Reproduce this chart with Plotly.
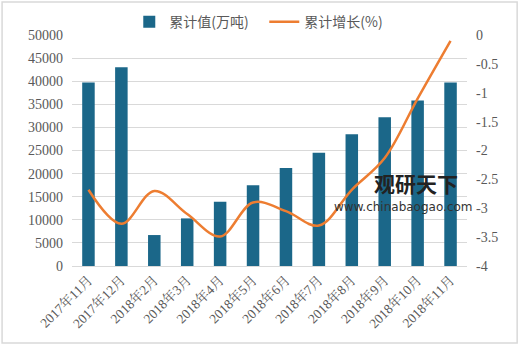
import plotly.graph_objects as go

# Monthly cumulative output and cumulative growth
months = ["2017年11月", "2017年12月", "2018年2月", "2018年3月", "2018年4月", "2018年5月",
          "2018年6月", "2018年7月", "2018年8月", "2018年9月", "2018年10月", "2018年11月"]
cum_value = [39700, 43000, 6700, 10300, 13900, 17500, 21200, 24500, 28500, 32200, 35800, 39700]
cum_growth = [-2.68, -3.27, -2.70, -3.10, -3.49, -2.90, -3.05, -3.30, -2.68, -2.13, -1.10, -0.10]

left_ticks = list(range(0, 50001, 5000))
left_labels = [str(v) for v in left_ticks]
right_ticks = [0, -0.5, -1, -1.5, -2, -2.5, -3, -3.5, -4]
right_labels = ["0", "-0.5", "-1", "-1.5", "-2", "-2.5", "-3", "-3.5", "-4"]

BAR_COLOR = "#1B6789"
LINE_COLOR = "#ED7D31"
TEXT_COLOR = "#595959"
FONT = "'Liberation Serif', 'Noto Serif CJK SC', 'Noto Sans CJK SC', serif"

fig = go.Figure()
fig.add_trace(go.Bar(
    x=months, y=cum_value, name="累计值(万吨)",
    marker=dict(color=BAR_COLOR, line=dict(width=0)),
    width=0.38, yaxis="y",
))
fig.add_trace(go.Scatter(
    x=months, y=cum_growth, name="累计增长(%)", mode="lines",
    line=dict(color=LINE_COLOR, width=2.5, shape="spline", smoothing=1.0),
    yaxis="y2",
))

fig.update_layout(
    width=520, height=346,
    margin=dict(l=72, r=53, t=35, b=80, autoexpand=False),
    paper_bgcolor="white", plot_bgcolor="white",
    font=dict(family=FONT, size=13, color=TEXT_COLOR),
    showlegend=True,
    legend=dict(
        orientation="h", x=0.145, xanchor="left", y=1.056, yanchor="middle",
        bgcolor="rgba(0,0,0,0)",
        font=dict(family="'Noto Sans CJK SC', sans-serif", size=14, color=TEXT_COLOR),
        itemwidth=30, entrywidth=90, entrywidthmode="pixels", traceorder="normal",
    ),
    xaxis=dict(
        type="category", tickangle=-45, showgrid=False, showline=True,
        linecolor="#D9D9D9", linewidth=1, ticks="",
        tickfont=dict(family=FONT, size=13.5, color=TEXT_COLOR),
    ),
    yaxis=dict(
        range=[0, 50000], tickvals=left_ticks, ticktext=left_labels,
        showgrid=True, gridcolor="#D9D9D9",
        gridwidth=1, zeroline=False, showline=False, ticks="",
        ticklabelstandoff=8,
        tickfont=dict(family=FONT, size=14, color=TEXT_COLOR),
    ),
    yaxis2=dict(
        range=[-4, 0], overlaying="y", side="right", tickvals=right_ticks,
        ticktext=right_labels, showgrid=False, zeroline=False, showline=False,
        ticks="", ticklabelstandoff=8,
        tickfont=dict(family=FONT, size=14, color=TEXT_COLOR),
    ),
    shapes=[dict(
        type="rect", xref="paper", yref="paper",
        x0=-0.177, x1=1.127, y0=-0.333, y1=1.143,
        line=dict(color="#D9D9D9", width=1.5), fillcolor="rgba(0,0,0,0)",
        layer="below",
    )],
    annotations=[
        dict(text="<b>观研天下</b>", xref="paper", yref="paper", x=0.87, y=0.36,
             xanchor="center", yanchor="middle",
             showarrow=False, font=dict(family="'Noto Sans CJK SC'", size=21, color="#222222")),
        dict(text="www.chinabaogao.com", xref="paper", yref="paper", x=0.838, y=0.255,
             xanchor="center", yanchor="middle",
             showarrow=False, font=dict(family="'DejaVu Sans'", size=12, color="#333333")),
    ],
)

fig.write_html("out.html")
